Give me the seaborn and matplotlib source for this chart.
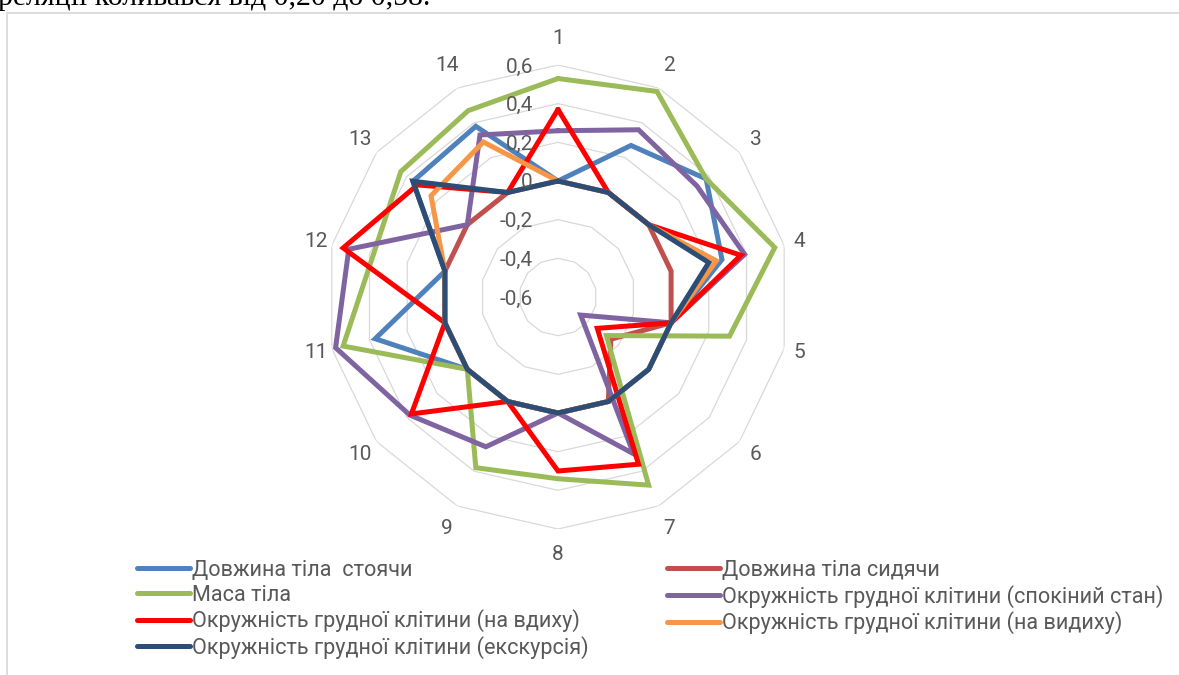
import numpy as np
import pandas as pd
import matplotlib
matplotlib.use("Agg")
import matplotlib.pyplot as plt
import matplotlib.transforms as mtransforms
from matplotlib.lines import Line2D
from matplotlib.patches import Rectangle
import seaborn as sns

# ---- data -------------------------------------------------------------
categories = [str(i) for i in range(1, 15)]
series_names = [
    "Довжина тіла  стоячи",
    "Довжина тіла сидячи",
    "Маса тіла",
    "Окружність грудної клітини (спокіний стан)",
    "Окружність грудної клітини (на вдиху)",
    "Окружність грудної клітини (на видиху)",
    "Окружність грудної клітини (екскурсія)",
]
standing_length = [0, 0.27, 0.38, 0.27, 0, 0, 0, 0, 0, 0, 0.37, 0, 0.36, 0.38]
sitting_length = [0, 0, 0, 0, 0, -0.25, 0, 0, 0, 0, 0, 0, 0, 0]
body_mass = [0.53, 0.58, 0.38, 0.55, 0.31, -0.28, 0.48, 0.34, 0.38, 0, 0.54, 0.38, 0.44, 0.47]
chest_rest = [0.26, 0.36, 0.32, 0.39, 0, -0.45, 0.30, 0, 0.26, 0.38, 0.58, 0.51, 0, 0.33]
chest_inhale = [0.37, 0, 0, 0.37, 0, -0.34, 0.36, 0.30, 0, 0.37, 0, 0.54, 0.33, 0]
chest_exhale = [0, 0, 0, 0.24, 0, 0, 0, 0, 0, 0, 0, 0, 0.24, 0.29]
chest_excursion = [0, 0, 0, 0.20, 0, 0, 0, 0, 0, 0, 0, 0, 0.36, 0]

r_ticks = [-0.6, -0.4, -0.2, 0.0, 0.2, 0.4, 0.6]
r_tick_labels = ["-0,6", "-0,4", "-0,2", "0", "0,2", "0,4", "0,6"]

colors = ["#4F81BD", "#C0504D", "#9BBB59", "#8064A2", "#FF0000", "#F79646", "#2C4D75"]
header_line = "реляції коливався від 0,20 до 0,58."

# ---- style ------------------------------------------------------------
sns.set_style("white")
plt.rcParams["font.family"] = ["Roboto", "DejaVu Sans"]
text_grey = "#595959"
grid_grey = "#D9D9D9"

all_values = [standing_length, sitting_length, body_mass, chest_rest,
              chest_inhale, chest_exhale, chest_excursion]

n = len(categories)
angles = np.arange(n) * 2 * np.pi / n
closed_angles = np.append(angles, 2 * np.pi)

rows = []
for name, vals in zip(series_names, all_values):
    closed_vals = list(vals) + [vals[0]]
    for th, v in zip(closed_angles, closed_vals):
        rows.append({"series": name, "theta": th, "value": v})
df = pd.DataFrame(rows)

W, H = 1179, 675
fig = plt.figure(figsize=(W / 100, H / 100), dpi=100)

# chart-area frame
fig.patches.append(Rectangle((7 / W, -0.1), 1.2, 1 - 13 / H + 0.1,
                             transform=fig.transFigure, fill=False,
                             edgecolor=grid_grey, linewidth=1.3))

# polar axes, outer ring radius 232 px around (558, 297)
cx, cy, R = 558, 297, 232
ax = fig.add_axes([(cx - R) / W, (H - cy - R) / H, 2 * R / W, 2 * R / H],
                  projection="polar")
ax.set_theta_zero_location("N")
ax.set_theta_direction(-1)
ax.set_ylim(r_ticks[0], r_ticks[-1])
ax.grid(False)
ax.set_xticks([])
ax.set_yticks([])
ax.spines["polar"].set_visible(False)
ax.patch.set_alpha(0)

# polygonal grid rings
for r in r_ticks[1:]:
    ax.plot(closed_angles, [r] * len(closed_angles), color=grid_grey,
            linewidth=0.9, zorder=0)

sns.lineplot(data=df, x="theta", y="value", hue="series",
             hue_order=series_names, palette=colors, sort=False,
             estimator=None, linewidth=3.6, ax=ax, legend=False)
for line in ax.lines[len(r_ticks) - 1:]:
    line.set_solid_joinstyle("miter")
ax.set_xlabel("")
ax.set_ylabel("")

# radial value labels along the first spoke
label_tr = mtransforms.offset_copy(ax.transData, fig=fig, x=-25, y=-2, units="dots")
for r, lab in zip(r_ticks, r_tick_labels):
    ax.text(0, r, lab, transform=label_tr, ha="right", va="center",
            fontsize=15, color=text_grey)

# category labels around the outer ring
span = r_ticks[-1] - r_ticks[0]
for th, lab in zip(angles, categories):
    rp = 245 + 13 * abs(np.cos(th))
    ax.text(th, r_ticks[0] + span * rp / R, lab, ha="center", va="center",
            fontsize=15, color=text_grey, clip_on=False)

# legend in two columns
handles = [Line2D([], [], color=c, linewidth=3.6, solid_capstyle="round")
           for c in colors]
left_idx = [0, 2, 4, 6]
right_idx = [1, 3, 5]
leg_kw = dict(frameon=False, fontsize=15.6, handlelength=2.45, handletextpad=0.08,
              labelspacing=0.17, borderpad=0, borderaxespad=0,
              loc="upper left", labelcolor=text_grey)
leg1 = fig.legend([handles[i] for i in left_idx],
                  [series_names[i] for i in left_idx],
                  bbox_to_anchor=(137 / W, 1 - 560 / H), **leg_kw)
leg2 = fig.legend([handles[i] for i in right_idx],
                  [series_names[i] for i in right_idx],
                  bbox_to_anchor=(667 / W, 1 - 560 / H), **leg_kw)

# document line above the chart
fig.text(-0.002, 1 - 5 / H, header_line, ha="left", va="baseline",
         fontsize=21.5, color="black", family=["Liberation Serif", "DejaVu Serif"])

fig.savefig("out.png", dpi=100)
